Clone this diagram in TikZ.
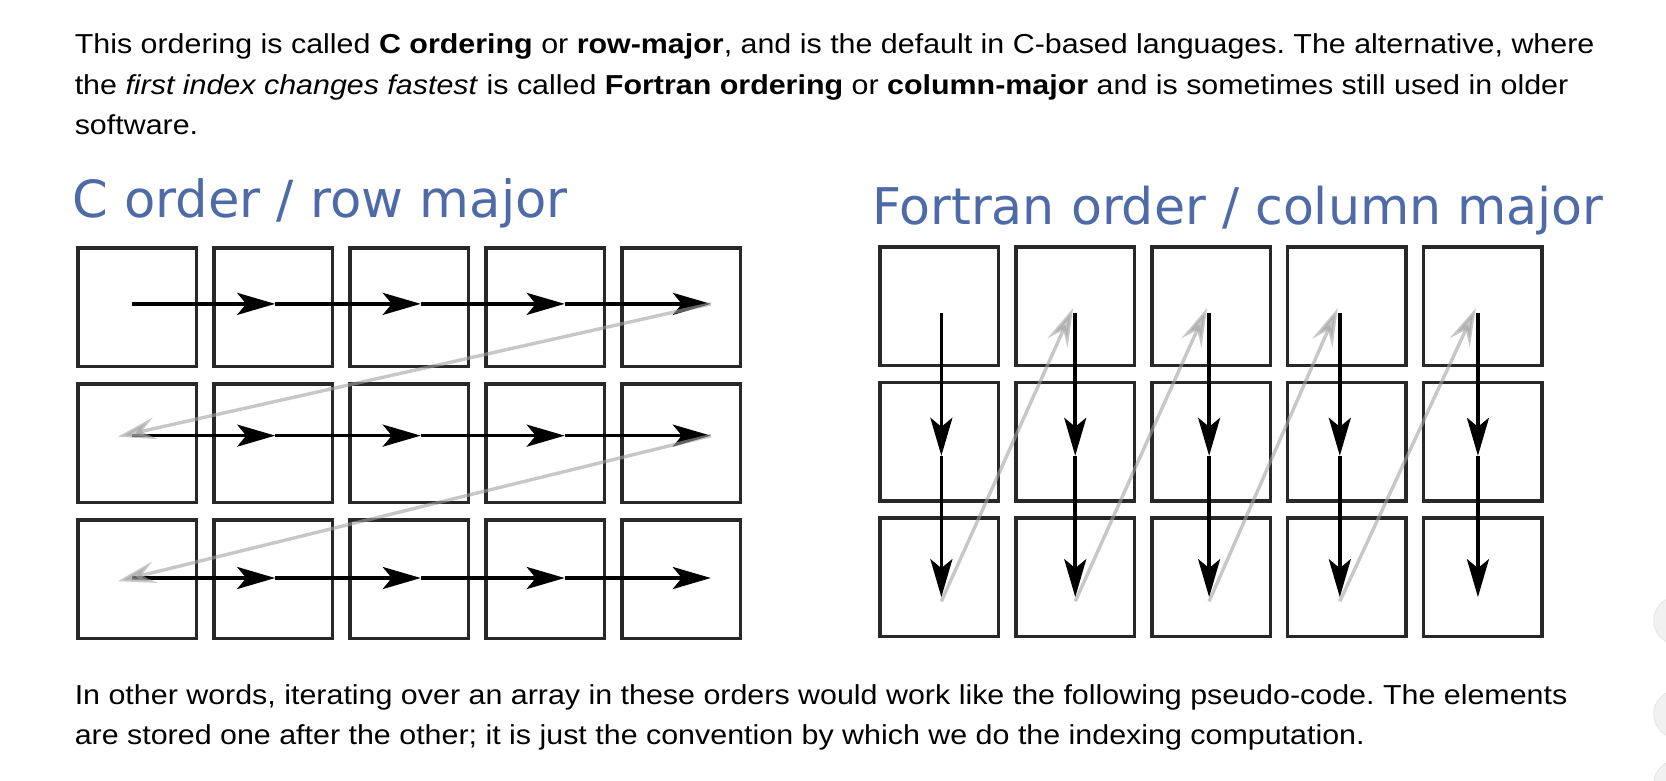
\documentclass[tikz,border=0pt]{standalone}
\usepackage{fontspec}
\setmainfont{Liberation Sans}[FakeStretch=1.11]
\newfontfamily\headfont{DejaVu Sans}
\usetikzlibrary{arrows.meta}
\frenchspacing

\definecolor{headblue}{RGB}{78,107,168}
\definecolor{cellgray}{RGB}{40,40,40}
\definecolor{jumpgray}{RGB}{163,163,163}
\definecolor{knobgray}{RGB}{241,241,241}

\begin{document}
\begin{tikzpicture}[x=0.53125pt, y=-0.53125pt,
  cell/.style={draw=cellgray, line width=1.7pt, minimum width=59.2pt,
    minimum height=59.2pt, inner sep=0pt},
  walk/.style={line width=1.8pt, -{Stealth[length=19pt, width=11pt, inset=4.5pt]}},
  jump/.style={draw=jumpgray, opacity=0.6, line width=1.7pt,
    -{Stealth[length=19pt, width=11pt, inset=7pt]}},
  prose/.style={anchor=base west, inner sep=0pt, font=\fontsize{13.7}{16}\selectfont},
  heading/.style={anchor=base west, inner sep=0pt, text=headblue,
    font=\headfont\fontsize{25.3}{30}\selectfont}]
  \clip (0,0) rectangle (1568,735);
  \fill[white] (0,0) rectangle (1568,735);

  % text above
  \node[prose] (intro1) at (70,50) {This ordering is called \textbf{C ordering} or \textbf{row-major}, and is the default in C-based languages. The alternative, where};
  \node[prose] (intro2) at (70,89) {the \textit{first index changes fastest} is called \textbf{Fortran ordering} or \textbf{column-major} and is sometimes still used in older};
  \node[prose] (intro3) at (70,127) {software.};

  % titles
  \node[heading, font=\headfont\fontsize{25.6}{30}\selectfont] (ctitle) at (67.5,205) {C order / row major};
  \node[heading] (ftitle) at (820.5,211) {Fortran order / column major};

  % the two 3x5 grids
  \foreach \r in {1,2,3}
    \foreach \c in {1,...,5} {
      \node[cell] (c-\r-\c) at ({129.25+128*(\c-1)}, {289.3+127.9*(\r-1)}) {};
      \node[cell] (f-\r-\c) at ({884+127.9*(\c-1)}, {288+127.7*(\r-1)}) {};
    }

  % C order: along the rows
  \foreach \y [count=\r] in {286,410,544}
    \foreach \x [count=\k] in {124,259,396,531.5,669}
      \coordinate (cp-\r-\k) at (\x,\y);
  \coordinate (cq-2) at (111,411);
  \coordinate (cq-3) at (111,547);
  \foreach \r in {1,2,3}
    \foreach \k/\n in {1/2,2/3,3/4,4/5}
      \draw[walk] (cp-\r-\k) -- (cp-\r-\n);
  \draw[jump] (cp-1-5) -- (cq-2);
  \draw[jump] (cp-2-5) -- (cq-3);

  % Fortran order: down the columns
  \foreach \x [count=\k] in {886,1012,1138,1261,1391} {
    \foreach \y [count=\r] in {295,429,562}
      \coordinate (fp-\r-\k) at (\x,\y);
    \coordinate (fs-\k) at (\x,566);
    \coordinate (ft-\k) at (\x-2,290);
  }
  \foreach \k in {1,...,5} {
    \draw[walk] (fp-1-\k) -- (fp-2-\k);
    \draw[walk] (fp-2-\k) -- (fp-3-\k);
  }
  \foreach \k/\n in {1/2,2/3,3/4,4/5}
    \draw[jump] (fs-\k) -- (ft-\n);

  % text below
  \node[prose] (outro1) at (70,663) {In other words, iterating over an array in these orders would work like the following pseudo-code. The elements};
  \node[prose] (outro2) at (70,701) {are stored one after the other; it is just the convention by which we do the indexing computation.};

  % scroll knobs at the right edge
  \foreach \y in {584,672,738}
    \draw[knobgray, fill=knobgray, draw=black!10] (1579,\y) circle[radius=12pt];
\end{tikzpicture}
\end{document}
